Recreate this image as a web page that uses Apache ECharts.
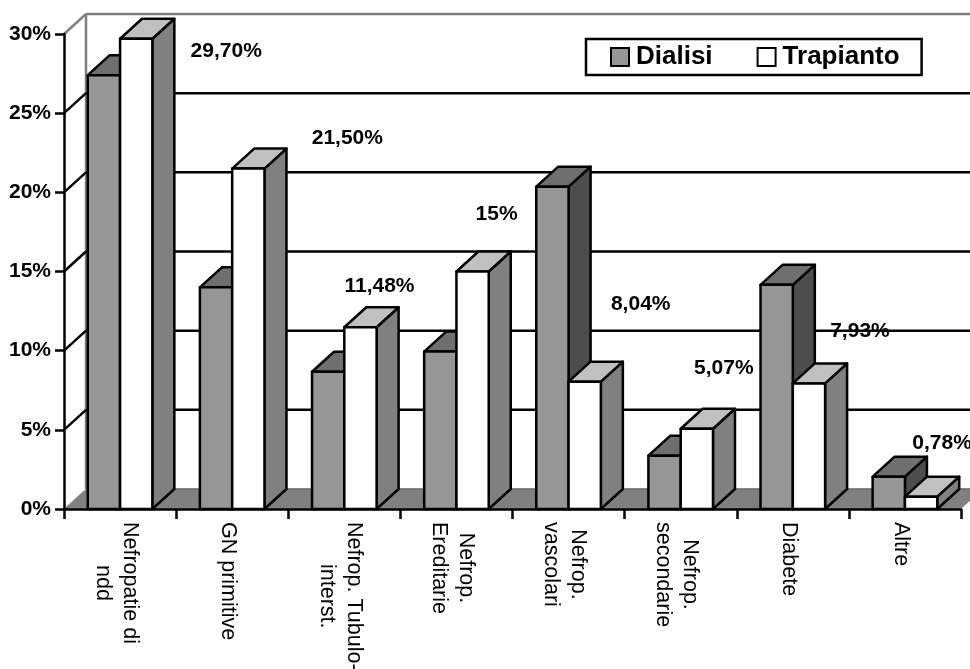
<!DOCTYPE html>
<html>
<head>
<meta charset="utf-8">
<style>html,body{margin:0;padding:0;background:#fff;overflow:hidden}#c{width:970px;height:669px}</style>
<script src="https://cdn.jsdelivr.net/npm/echarts@6/dist/echarts.min.js"></script>
</head>
<body>
<div id="c"></div>
<script>
const categories = ['Nefropatie di\nndd','GN primitive','Nefrop. Tubulo-\ninterst.','Nefrop.\nEreditarie','Nefrop.\nvascolari','Nefrop.\nsecondarie','Diabete','Altre'];
const dialisi = [27.4,14.0,8.67,9.94,20.36,3.37,14.16,2.04];
const trapianto = [29.7,21.5,11.48,15,8.04,5.07,7.93,0.78];
const valueLabels = ['29,70%','21,50%','11,48%','15%','8,04%','5,07%','7,93%','0,78%'];
const yTicks = [0,5,10,15,20,25,30];

const FONT = '"Liberation Sans", Arial, sans-serif';
const DX = 22, DY = 20;
const BAR_FRAC = 0.288;
const LINE_W = 2.5;
const LABEL_OFFSET = [[90,12],[99,-30],[19,-41],[24,-57],[56,-77],[27,-61],[51,-52],[21,-53]];
const n = categories.length;
const STYLES = {
  dialisi: {front:'#969696', side:'#4d4d4d', top:'#6f6f6f'},
  trapianto: {front:'#ffffff', side:'#808080', top:'#c0c0c0'}
};

function poly(pts, fill, stroke, w) {
  return {type:'polygon', shape:{points:pts}, style:{fill:fill, stroke:stroke||null, lineWidth:w||0, lineJoin:'round'}};
}
function line(a, b, color, w) {
  return {type:'line', shape:{x1:a[0],y1:a[1],x2:b[0],y2:b[1]}, style:{stroke:color, lineWidth:w}};
}
function barRenderer(offset, st) {
  return function(params, api) {
    const i = api.value(0), v = api.value(1);
    const band = api.size([1,0])[0];
    const w = band * BAR_FRAC;
    const c = api.coord([i, v]);
    const base = api.coord([i, 0]);
    const x0 = c[0] + offset * w, x1 = x0 + w, yt = c[1], yb = base[1];
    return {type:'group', children:[
      poly([[x1,yt],[x1+DX,yt-DY],[x1+DX,yb-DY],[x1,yb]], st.side, '#000', LINE_W),
      poly([[x0,yt],[x0+DX,yt-DY],[x1+DX,yt-DY],[x1,yt]], st.top, '#000', LINE_W),
      poly([[x0,yt],[x1,yt],[x1,yb],[x0,yb]], st.front, '#000', LINE_W)
    ]};
  };
}
function wallRenderer(params, api) {
  const v = api.value(0);
  const a = api.coord([0, v]);
  const halfBand = api.size([1,0])[0] / 2;
  const L = a[0] - halfBand, R = api.coord([n-1, v])[0] + halfBand, y = a[1];
  const children = [];
  if (v === 0) {
    const topY = api.coord([0, yTicks[yTicks.length-1]])[1];
    children.push(poly([[L,y],[L+DX,y-DY],[R+DX,y-DY],[R,y]], '#808080'));
    children.push(line([L+DX,y-DY],[R+DX,y-DY], '#666666', 1.5));
    children.push(line([L+DX,y-DY],[L+DX,topY-DY], '#808080', LINE_W));
    children.push(line([L,y],[L+DX,y-DY], '#a0a0a0', 1));
  } else {
    const c = v === yTicks[yTicks.length-1] ? '#808080' : '#000';
    children.push(line([L,y],[L+DX,y-DY], c, LINE_W));
    children.push(line([L+DX,y-DY],[R+DX,y-DY], c, LINE_W));
  }
  return {type:'group', children};
}
function labelRenderer(params, api) {
  const i = params.dataIndex;
  const c = api.coord([api.value(0), api.value(1)]);
  const w = api.size([1,0])[0] * BAR_FRAC;
  return {type:'text', style:{
    x: c[0] + w/2 + LABEL_OFFSET[i][0], y: c[1] + LABEL_OFFSET[i][1],
    text: valueLabels[i], fill:'#000', font:'bold 21px '+FONT, align:'center', verticalAlign:'middle'
  }};
}

const chart = echarts.init(document.getElementById('c'), null, {renderer:'canvas', width:970, height:669});
chart.setOption({
  animation:false,
  backgroundColor:'#fff',
  textStyle:{fontFamily:FONT},
  grid:{left:64, right:9, top:34, bottom:160, containLabel:false, outerBoundsMode:'none'},
  legend:{
    data:['Dialisi','Trapianto'], left:586, top:39, orient:'horizontal', icon:'rect',
    padding:[5,22,5,24], itemWidth:18, itemHeight:18, itemGap:44,
    borderColor:'#000', borderWidth:2.5, backgroundColor:'#fff', selectedMode:false, z:10,
    textStyle:{fontFamily:FONT, fontWeight:'bold', fontSize:26, color:'#000', padding:[0,0,0,2]}
  },
  xAxis:{
    type:'category', data:categories, boundaryGap:true,
    axisLine:{show:true, lineStyle:{color:'#000', width:2.5}},
    axisTick:{show:true, length:10, alignWithLabel:false, lineStyle:{color:'#000', width:2.5}},
    axisLabel:{
      rotate:-90, interval:0, margin:13, color:'#000', fontFamily:FONT, fontSize:21,
      hideOverlap:false, padding:[8,0,0,0],
      formatter:function(s){return s.split('\n').map(t=>'{c|'+t+'}').join('\n');},
      rich:{c:{align:'center', fontFamily:FONT, fontSize:21.5, lineHeight:27, color:'#000'}}
    },
    splitLine:{show:false}
  },
  yAxis:{
    type:'value', min:0, max:30, interval:5,
    axisLine:{show:true, lineStyle:{color:'#000', width:2.5}},
    axisTick:{show:true, length:9, lineStyle:{color:'#000', width:2.5}},
    axisLabel:{margin:13, color:'#000', fontFamily:FONT, fontWeight:'bold', fontSize:21, formatter:'{value}%',
      verticalAlignMinLabel:'middle', verticalAlignMaxLabel:'middle'},
    splitLine:{show:false}
  },
  series:[
    {type:'custom', name:'wall', coordinateSystem:'cartesian2d', clip:false, z:-1, silent:true,
     encode:{x:1,y:0}, data:yTicks.map(v=>[v,0]), renderItem:wallRenderer},
    {type:'custom', name:'Dialisi', coordinateSystem:'cartesian2d', clip:false, z:2,
     itemStyle:{color:STYLES.dialisi.front, borderColor:'#000', borderWidth:2},
     encode:{x:0,y:1}, data:dialisi.map((v,i)=>[i,v]), renderItem:barRenderer(-1, STYLES.dialisi)},
    {type:'custom', name:'Trapianto', coordinateSystem:'cartesian2d', clip:false, z:3,
     itemStyle:{color:STYLES.trapianto.front, borderColor:'#000', borderWidth:2},
     encode:{x:0,y:1}, data:trapianto.map((v,i)=>[i,v]), renderItem:barRenderer(0, STYLES.trapianto)},
    {type:'custom', name:'labels', coordinateSystem:'cartesian2d', clip:false, z:4, silent:true,
     encode:{x:0,y:1}, data:trapianto.map((v,i)=>[i,v]), renderItem:labelRenderer}
  ]
});
</script>
</body>
</html>
